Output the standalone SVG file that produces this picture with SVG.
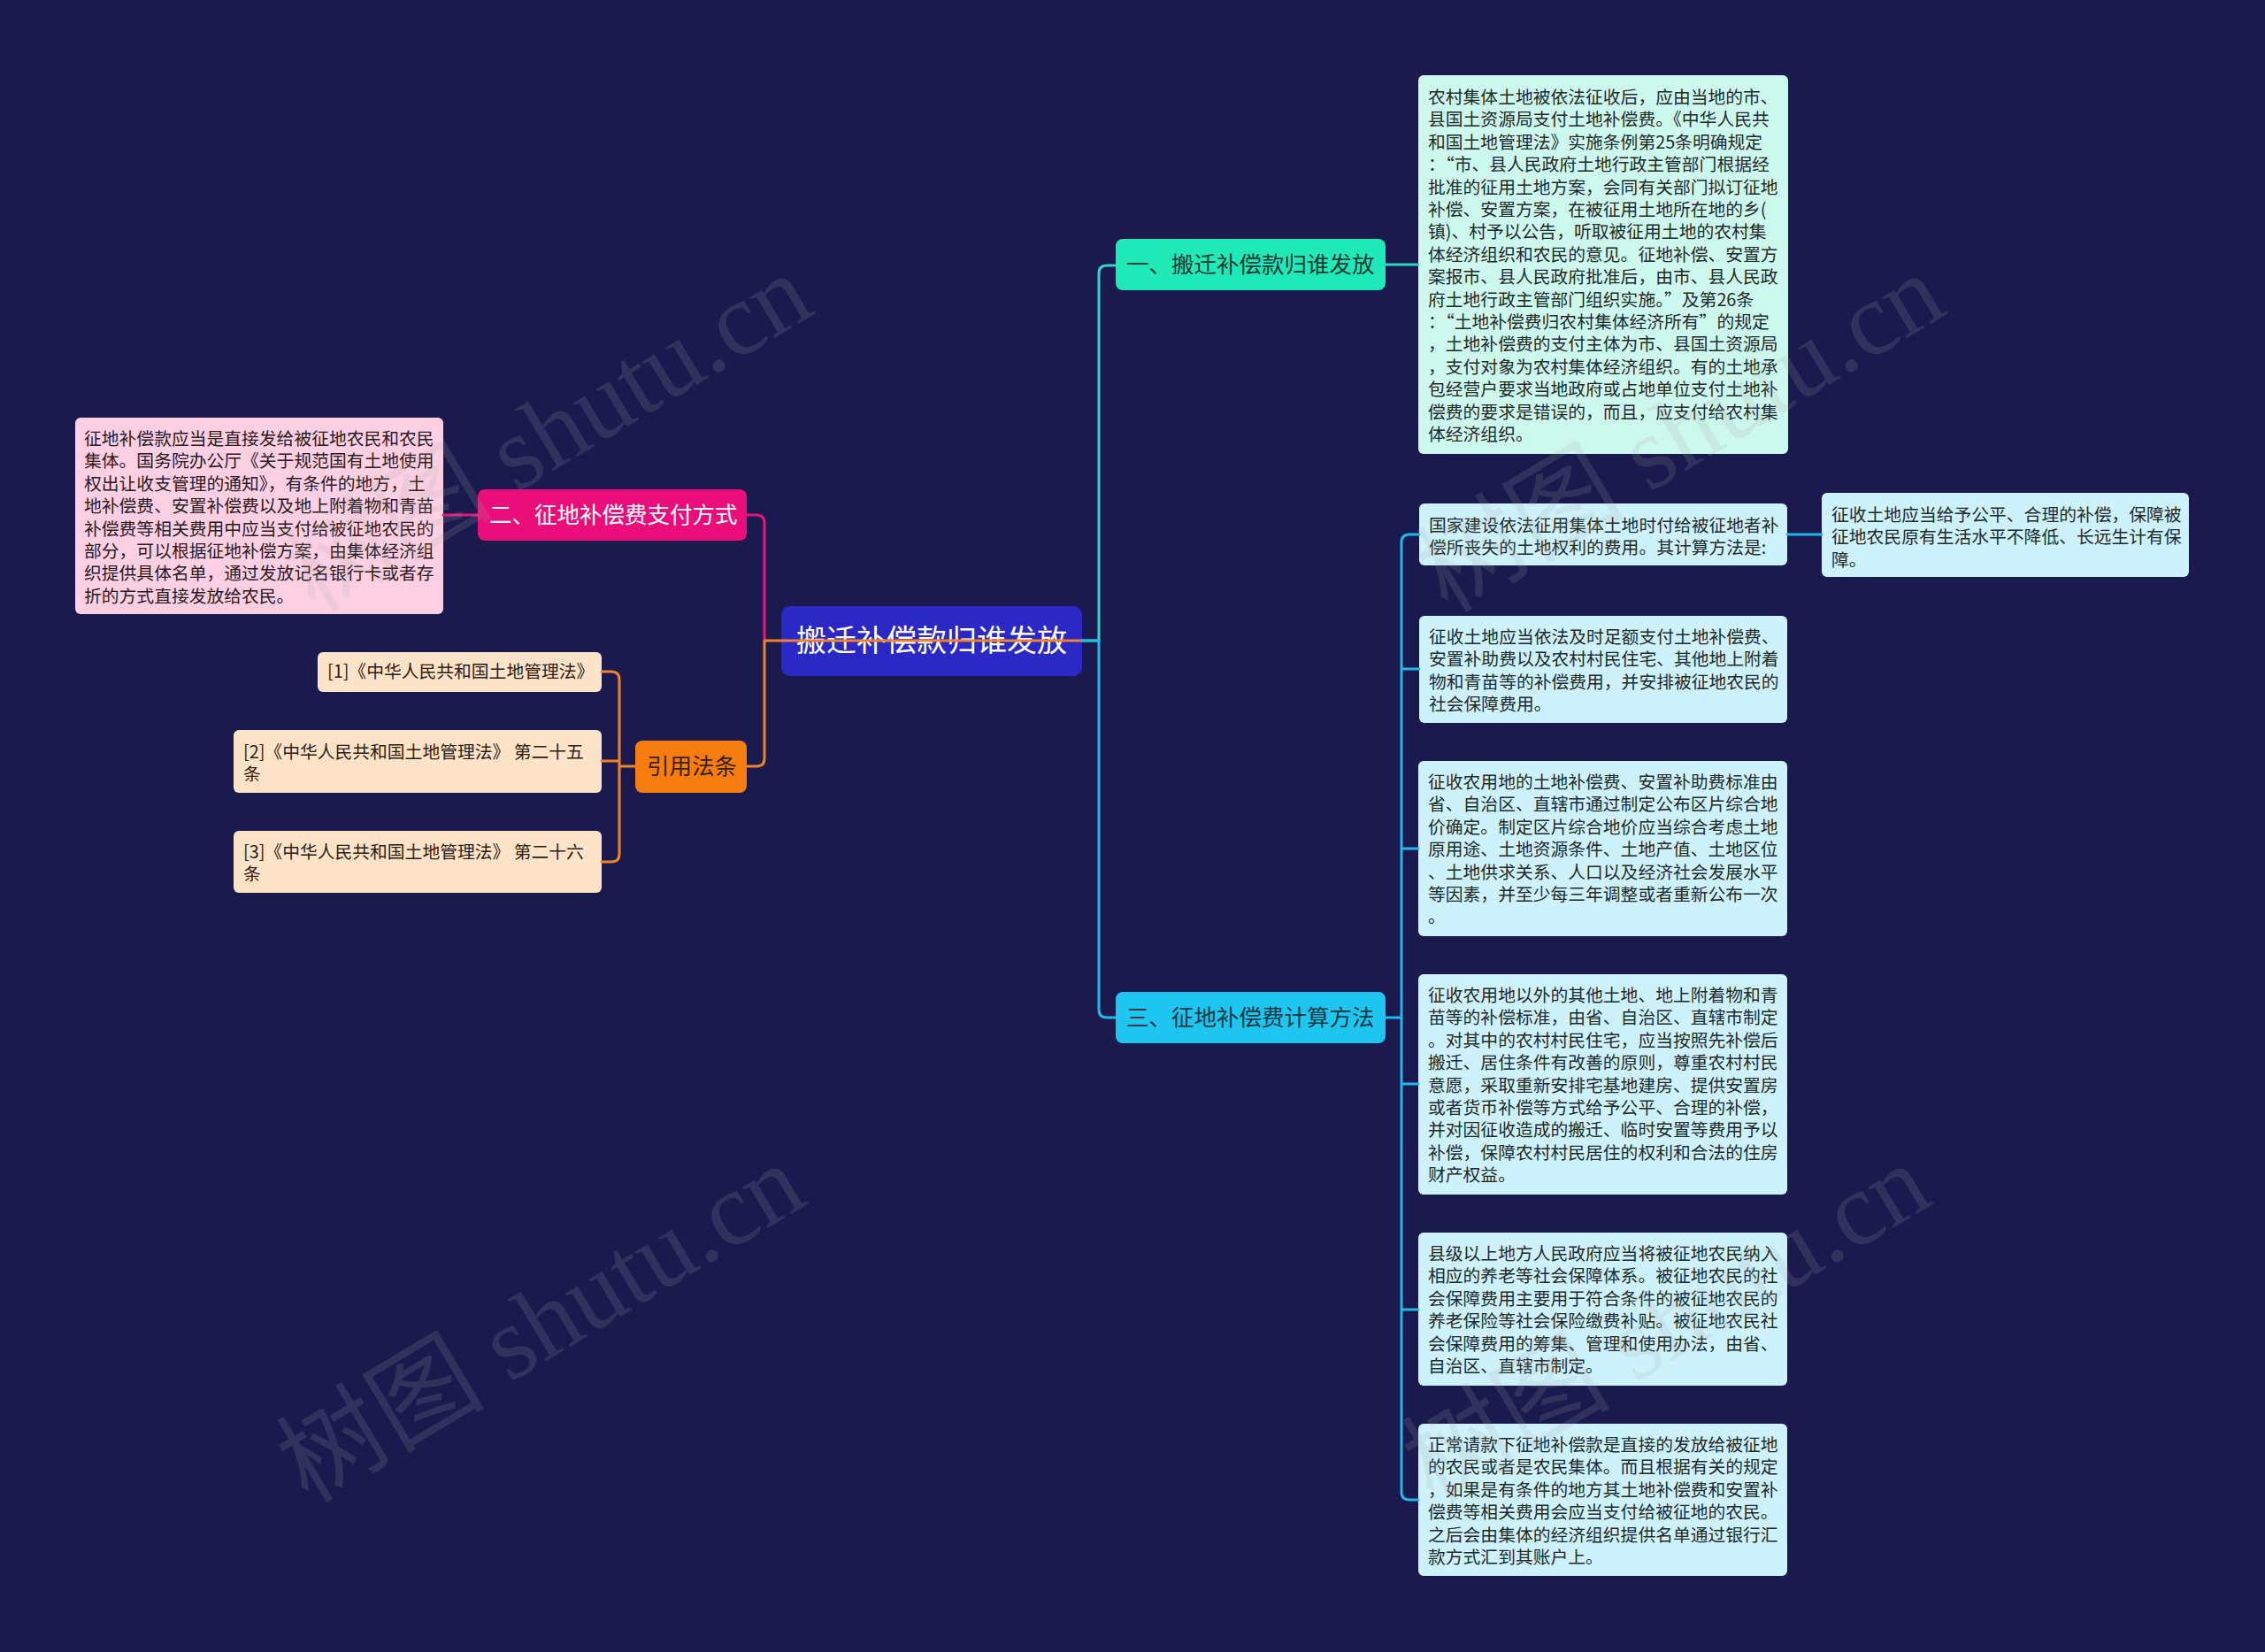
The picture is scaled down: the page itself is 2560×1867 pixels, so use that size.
<svg xmlns="http://www.w3.org/2000/svg" width="2560" height="1867" viewBox="0 0 2560 1867">
<style>
text{font-family:"Noto Sans CJK SC","Noto Sans",sans-serif;}
.leaf{font-size:19.8px;fill:#1f2a2a;}
.br{font-size:25.5px;}
.ln{fill:none;stroke-width:3;stroke-linecap:round;stroke-linejoin:round;}
.wm{font-family:"Liberation Serif","Noto Sans CJK SC",serif;font-size:118px;fill:#a8a8a8;opacity:0.16;}
</style>
<rect x="0" y="0" width="2560" height="1867" fill="#1b1a4f"/>

<g id="root">
<rect x="883" y="685" width="340" height="79" rx="10" fill="#2b28c6"/>
<text x="1053" y="736" text-anchor="middle" font-size="34" fill="#ffffff">搬迁补偿款归谁发放</text>
</g>

<g id="branch1">
<rect x="1261" y="270" width="305" height="58" rx="8" fill="#20e9b8"/>
<text x="1273" y="308" class="br" fill="#173b33">一、搬迁补偿款归谁发放</text>
</g>

<g id="branch2">
<rect x="540" y="553" width="304" height="58" rx="8" fill="#ea0e7a"/>
<text x="553" y="591" class="br" fill="#ffffff">二、征地补偿费支付方式</text>
</g>

<g id="branch3">
<rect x="1261" y="1121" width="305" height="58" rx="8" fill="#1ec6ef"/>
<text x="1273" y="1159" class="br" fill="#0f3846">三、征地补偿费计算方法</text>
</g>

<g id="cite">
<rect x="718" y="837" width="126" height="59" rx="8" fill="#f77d10"/>
<text x="731" y="875" class="br" fill="#3a1e05">引用法条</text>
</g>

<g id="leafA">
<rect x="1603" y="85" width="418" height="428" rx="6" fill="#cdf8ee"/>
<text class="leaf">
<tspan x="1614" y="117">农村集体土地被依法征收后，应由当地的市、</tspan>
<tspan x="1614" y="142.4">县国土资源局支付土地补偿费。《中华人民共</tspan>
<tspan x="1614" y="167.8">和国土地管理法》实施条例第25条明确规定</tspan>
<tspan x="1614" y="193.2">：“市、县人民政府土地行政主管部门根据经</tspan>
<tspan x="1614" y="218.6">批准的征用土地方案，会同有关部门拟订征地</tspan>
<tspan x="1614" y="244">补偿、安置方案，在被征用土地所在地的乡(</tspan>
<tspan x="1614" y="269.4">镇)、村予以公告，听取被征用土地的农村集</tspan>
<tspan x="1614" y="294.8">体经济组织和农民的意见。征地补偿、安置方</tspan>
<tspan x="1614" y="320.2">案报市、县人民政府批准后，由市、县人民政</tspan>
<tspan x="1614" y="345.6">府土地行政主管部门组织实施。”及第26条</tspan>
<tspan x="1614" y="371">：“土地补偿费归农村集体经济所有”的规定</tspan>
<tspan x="1614" y="396.4">，土地补偿费的支付主体为市、县国土资源局</tspan>
<tspan x="1614" y="421.8">，支付对象为农村集体经济组织。有的土地承</tspan>
<tspan x="1614" y="447.2">包经营户要求当地政府或占地单位支付土地补</tspan>
<tspan x="1614" y="472.6">偿费的要求是错误的，而且，应支付给农村集</tspan>
<tspan x="1614" y="498">体经济组织。</tspan>
</text>
</g>

<g id="leafB1">
<rect x="1604" y="569" width="416" height="70" rx="6" fill="#cdf2fb"/>
<text class="leaf">
<tspan x="1615" y="601">国家建设依法征用集体土地时付给被征地者补</tspan>
<tspan x="1615" y="626.4">偿所丧失的土地权利的费用。其计算方法是:</tspan>
</text>
</g>

<g id="leafB1a">
<rect x="2059" y="557" width="415" height="95" rx="6" fill="#cdf2fb"/>
<text class="leaf">
<tspan x="2070" y="589">征收土地应当给予公平、合理的补偿，保障被</tspan>
<tspan x="2070" y="614.4">征地农民原有生活水平不降低、长远生计有保</tspan>
<tspan x="2070" y="639.8">障。</tspan>
</text>
</g>

<g id="leafB2">
<rect x="1604" y="696" width="416" height="121" rx="6" fill="#cdf2fb"/>
<text class="leaf">
<tspan x="1615" y="727">征收土地应当依法及时足额支付土地补偿费、</tspan>
<tspan x="1615" y="752.4">安置补助费以及农村村民住宅、其他地上附着</tspan>
<tspan x="1615" y="777.8">物和青苗等的补偿费用，并安排被征地农民的</tspan>
<tspan x="1615" y="803.2">社会保障费用。</tspan>
</text>
</g>

<g id="leafC">
<rect x="1603" y="860" width="417" height="198" rx="6" fill="#cdf2fb"/>
<text class="leaf">
<tspan x="1614" y="891">征收农用地的土地补偿费、安置补助费标准由</tspan>
<tspan x="1614" y="916.4">省、自治区、直辖市通过制定公布区片综合地</tspan>
<tspan x="1614" y="941.8">价确定。制定区片综合地价应当综合考虑土地</tspan>
<tspan x="1614" y="967.2">原用途、土地资源条件、土地产值、土地区位</tspan>
<tspan x="1614" y="992.6">、土地供求关系、人口以及经济社会发展水平</tspan>
<tspan x="1614" y="1018">等因素，并至少每三年调整或者重新公布一次</tspan>
<tspan x="1614" y="1043.4">。</tspan>
</text>
</g>

<g id="leafD">
<rect x="1603" y="1101" width="417" height="249" rx="6" fill="#cdf2fb"/>
<text class="leaf">
<tspan x="1614" y="1132">征收农用地以外的其他土地、地上附着物和青</tspan>
<tspan x="1614" y="1157.4">苗等的补偿标准，由省、自治区、直辖市制定</tspan>
<tspan x="1614" y="1182.8">。对其中的农村村民住宅，应当按照先补偿后</tspan>
<tspan x="1614" y="1208.2">搬迁、居住条件有改善的原则，尊重农村村民</tspan>
<tspan x="1614" y="1233.6">意愿，采取重新安排宅基地建房、提供安置房</tspan>
<tspan x="1614" y="1259">或者货币补偿等方式给予公平、合理的补偿，</tspan>
<tspan x="1614" y="1284.4">并对因征收造成的搬迁、临时安置等费用予以</tspan>
<tspan x="1614" y="1309.8">补偿，保障农村村民居住的权利和合法的住房</tspan>
<tspan x="1614" y="1335.2">财产权益。</tspan>
</text>
</g>

<g id="leafE">
<rect x="1603" y="1393" width="417" height="173" rx="6" fill="#cdf2fb"/>
<text class="leaf">
<tspan x="1614" y="1424">县级以上地方人民政府应当将被征地农民纳入</tspan>
<tspan x="1614" y="1449.4">相应的养老等社会保障体系。被征地农民的社</tspan>
<tspan x="1614" y="1474.8">会保障费用主要用于符合条件的被征地农民的</tspan>
<tspan x="1614" y="1500.2">养老保险等社会保险缴费补贴。被征地农民社</tspan>
<tspan x="1614" y="1525.6">会保障费用的筹集、管理和使用办法，由省、</tspan>
<tspan x="1614" y="1551">自治区、直辖市制定。</tspan>
</text>
</g>

<g id="leafF">
<rect x="1603" y="1609" width="417" height="172" rx="6" fill="#cdf2fb"/>
<text class="leaf">
<tspan x="1614" y="1640">正常请款下征地补偿款是直接的发放给被征地</tspan>
<tspan x="1614" y="1665.4">的农民或者是农民集体。而且根据有关的规定</tspan>
<tspan x="1614" y="1690.8">，如果是有条件的地方其土地补偿费和安置补</tspan>
<tspan x="1614" y="1716.2">偿费等相关费用会应当支付给被征地的农民。</tspan>
<tspan x="1614" y="1741.6">之后会由集体的经济组织提供名单通过银行汇</tspan>
<tspan x="1614" y="1767">款方式汇到其账户上。</tspan>
</text>
</g>

<g id="leafPink">
<rect x="85" y="472" width="416" height="222" rx="6" fill="#fcd0e2"/>
<text class="leaf" style="fill:#2a1a22">
<tspan x="95" y="503">征地补偿款应当是直接发给被征地农民和农民</tspan>
<tspan x="95" y="528.4">集体。国务院办公厅《关于规范国有土地使用</tspan>
<tspan x="95" y="553.8">权出让收支管理的通知》，有条件的地方，土</tspan>
<tspan x="95" y="579.2">地补偿费、安置补偿费以及地上附着物和青苗</tspan>
<tspan x="95" y="604.6">补偿费等相关费用中应当支付给被征地农民的</tspan>
<tspan x="95" y="630">部分，可以根据征地补偿方案，由集体经济组</tspan>
<tspan x="95" y="655.4">织提供具体名单，通过发放记名银行卡或者存</tspan>
<tspan x="95" y="680.8">折的方式直接发放给农民。</tspan>
</text>
</g>

<g id="ref1">
<rect x="359" y="737" width="321" height="45" rx="6" fill="#fde3c8"/>
<text class="leaf" style="fill:#2e2010" x="370" y="766">[1]《中华人民共和国土地管理法》</text>
</g>
<g id="ref2">
<rect x="264" y="825" width="416" height="71" rx="6" fill="#fde3c8"/>
<text class="leaf" style="fill:#2e2010">
<tspan x="275" y="857">[2]《中华人民共和国土地管理法》 第二十五</tspan>
<tspan x="275" y="882.4">条</tspan>
</text>
</g>
<g id="ref3">
<rect x="264" y="939" width="416" height="70" rx="6" fill="#fde3c8"/>
<text class="leaf" style="fill:#2e2010">
<tspan x="275" y="970">[3]《中华人民共和国土地管理法》 第二十六</tspan>
<tspan x="275" y="995.4">条</tspan>
</text>
</g>

<g id="connectors">
<path class="ln" stroke="#e0187c" d="M864,724 V591 Q864,582 855,582 H844"/>
<path class="ln" stroke="#e0187c" d="M540,582 H501"/>
<path class="ln" stroke="#f0832a" d="M1223,724 H864 V857 Q864,866 855,866 H844"/>
<path class="ln" stroke="#f0832a" d="M718,866 H700 M700,866 V768 Q700,759 691,759 H680 M700,866 V965 Q700,974 691,974 H680 M700,860 H680"/>
<path class="ln" stroke="#2fd6c8" d="M1223,724 H1242 V309 Q1242,300 1251,300 H1261"/>
<path class="ln" stroke="#2fd6c8" d="M1566,299 H1603"/>
<path class="ln" stroke="#22b9ea" d="M1223,724 H1242 V1141 Q1242,1150 1251,1150 H1261"/>
<path class="ln" stroke="#22b9ea" d="M1566,1150 H1584 M1584,1150 V613 Q1584,604 1593,604 H1604 M1584,1150 V1686 Q1584,1695 1593,1695 H1603 M1584,756 H1604 M1584,959 H1603 M1584,1225 H1603 M1584,1480 H1603"/>
<path class="ln" stroke="#22b9ea" d="M2020,604 H2059"/>
</g>

<g id="watermarks">
<text class="wm" transform="translate(356,694) rotate(-31)">树图 shutu.cn</text>
<text class="wm" transform="translate(348,1700) rotate(-31)">树图 shutu.cn</text>
<text class="wm" transform="translate(1636,694) rotate(-31)">树图 shutu.cn</text>
<text class="wm" transform="translate(1620,1700) rotate(-31)">树图 shutu.cn</text>
</g>
</svg>
